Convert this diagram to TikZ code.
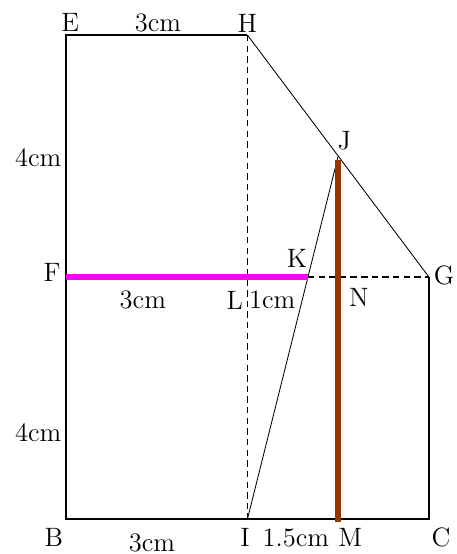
\documentclass[tikz,border=0pt]{standalone}
\usepackage{xcolor}
\usepackage{tikz}
\usetikzlibrary{calc}
\definecolor{rust}{HTML}{993300}
\definecolor{pink}{HTML}{FF00FF}

\begin{document}
\begin{tikzpicture}[x=1cm,y=1cm,font=\fontsize{12.5}{14}\selectfont,
  edge/.style={line width=0.7pt},
  hidden/.style={line width=0.65pt,dash pattern=on 3pt off 2pt}]
\useasboundingbox (-1.091,-0.579) rectangle (6.463,8.579);
\coordinate (B) at (0,0); \coordinate (C) at (6,0); \coordinate (E) at (0,8); \coordinate (F) at (0,4);
\coordinate (G) at (6,4); \coordinate (H) at (3,8); \coordinate (I) at (3,0); \coordinate (J) at (4.5,6);
\coordinate (K) at (4,4); \coordinate (L) at (3,4); \coordinate (M) at (4.5,0); \coordinate (N) at (4.5,4);
\draw[edge] (H)--(E)--(B)--(C)--(G);
\draw (H)--(J)--(G); \draw (I)--(J);
\draw[hidden] (H)--(I); \draw[hidden] (K)--(G);
\draw[pink,line width=2.4pt] (F)--(K);
\draw[rust,line width=2.8pt] ($(J)+(0,-0.06)$)--($(M)+(0,-0.05)$);
% point names
\node (tE) at (0.07,8.2) {E}; \node (tH) at (3,8.2) {H}; \node (tJ) at (4.6,6.26) {J};
\node (tF) at (-0.23,4.07) {F}; \node (tK) at (3.82,4.31) {K}; \node (tG) at (6.25,4.03) {G};
\node (tL) at (2.79,3.62) {L}; \node (tN) at (4.84,3.67) {N};
\node (tB) at (-0.2,-0.31) {B}; \node (tI) at (2.96,-0.31) {I}; \node (tM) at (4.7,-0.31) {M}; \node (tC) at (6.2,-0.31) {C};
% lengths
\node (dEH) at (1.52,8.2) {3cm}; \node (dEF) at (-0.46,5.98) {4cm}; \node (dFB) at (-0.46,1.42) {4cm};
\node (dFL) at (1.27,3.62) {3cm}; \node (dLK) at (3.41,3.62) {1cm};
\node (dBI) at (1.42,-0.4) {3cm}; \node (dIM) at (3.8,-0.31) {1.5cm};
\end{tikzpicture}
\end{document}
